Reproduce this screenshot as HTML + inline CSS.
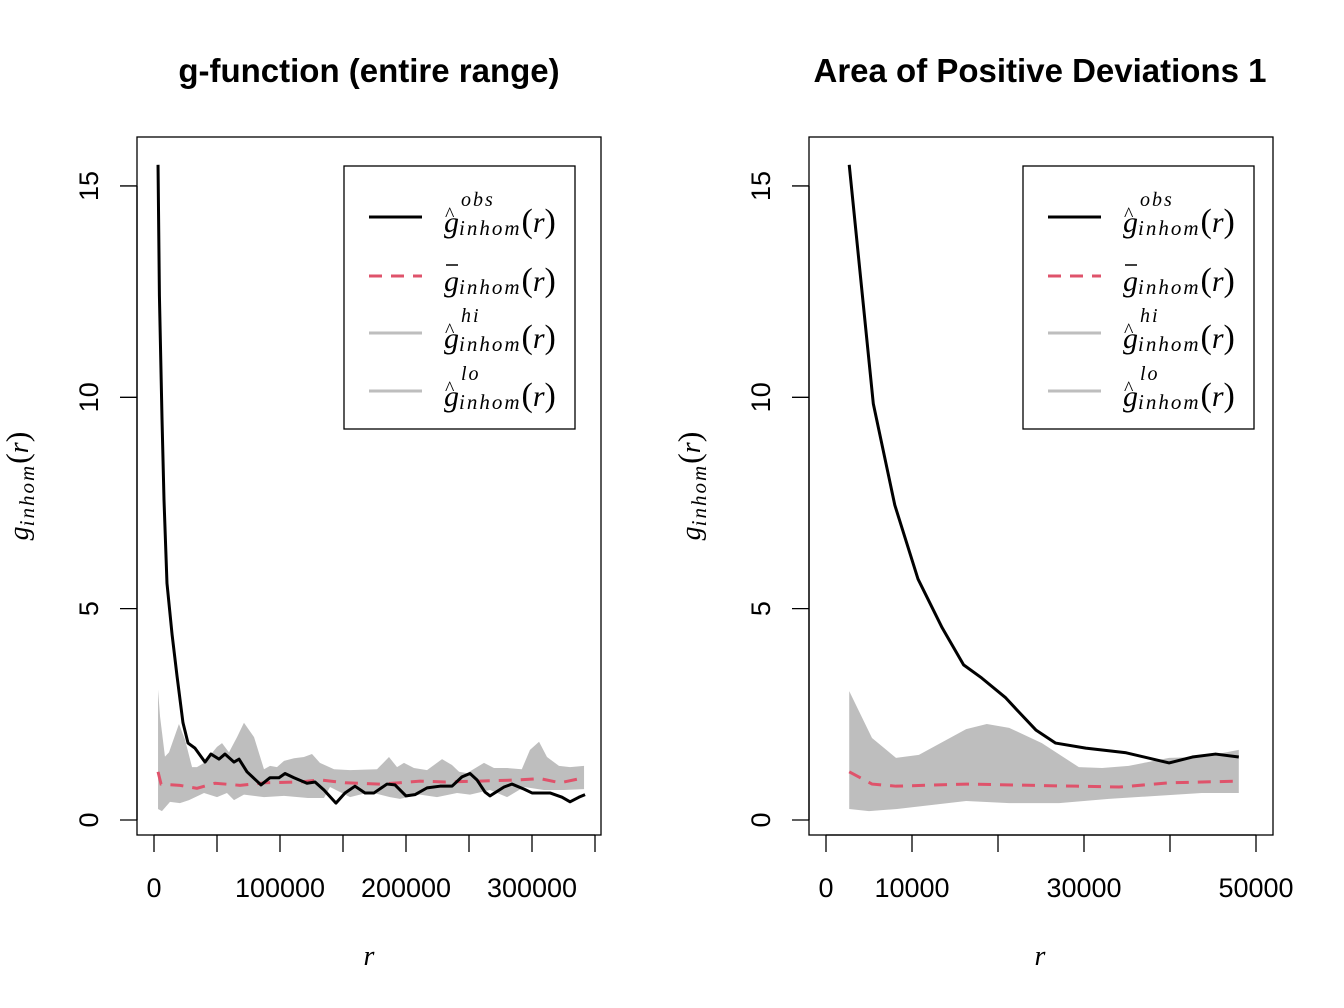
<!DOCTYPE html>
<html><head><meta charset="utf-8">
<style>
html,body{margin:0;padding:0;background:#fff;}
svg{display:block;font-family:"Liberation Sans",Arial,sans-serif;}
.tick{font-size:27px;fill:#000;}
.title{font-size:33px;font-weight:bold;fill:#000;}
.math{font-family:"Liberation Serif","DejaVu Serif",serif;}
</style></head>
<body>
<svg id="chart" width="1344" height="1008" viewBox="0 0 1344 1008"></svg>
<script>
// ---- Left panel data ----
const leftObsR = [3200,4300,6350,7940,10300,14300,18300,23000,27000,32500,40500,45200,51600,56300,63500,67500,73800,84900,92100,99200,104000,111100,121400,127800,134900,144400,151600,159500,167500,174600,184900,191300,200000,207100,216700,227000,236500,244400,250800,256300,262700,266700,277800,284100,293700,300000,314300,323800,330200,337300,342100];
const leftObsV = [15.5,12.4,9.5,7.57,5.6,4.4,3.4,2.3,1.82,1.7,1.37,1.56,1.44,1.56,1.37,1.44,1.14,0.83,1.0,1.0,1.1,1.0,0.87,0.9,0.71,0.4,0.64,0.8,0.64,0.64,0.85,0.83,0.57,0.6,0.76,0.8,0.8,1.02,1.1,0.95,0.66,0.57,0.78,0.85,0.73,0.64,0.64,0.54,0.43,0.54,0.6];
const leftHiR = [3200,4800,8700,11900,19800,24600,30200,34100,39700,50000,54000,59500,65900,71400,79400,87300,92100,97600,103200,111100,119000,125400,131700,142900,155600,177000,186500,192900,198400,206300,216700,228600,236500,242100,248400,261900,269800,280200,291900,298400,305600,311900,321400,330200,341300];
const leftHiV = [3.08,2.45,1.5,1.6,2.27,1.9,1.25,1.25,1.35,1.73,1.82,1.6,1.96,2.3,1.96,1.2,1.28,1.25,1.4,1.46,1.49,1.56,1.35,1.2,1.18,1.2,1.49,1.25,1.35,1.23,1.18,1.44,1.3,1.14,1.11,1.35,1.23,1.23,1.2,1.66,1.85,1.49,1.28,1.25,1.28];
const leftLoR = [3200,6300,12700,20600,27800,39700,50000,57900,63500,71400,87300,103200,122200,134900,139700,155600,171400,187300,195200,211100,224600,240500,250800,266700,280200,293700,309500,325400,341300];
const leftLoV = [0.26,0.21,0.43,0.4,0.47,0.64,0.54,0.64,0.47,0.6,0.54,0.57,0.52,0.52,0.78,0.54,0.66,0.54,0.5,0.6,0.54,0.64,0.6,0.71,0.54,0.78,0.71,0.71,0.73];
const leftTheoR = [3200,5600,20600,34100,48400,68300,88100,115900,131700,151600,179400,195200,211100,231000,258700,290500,306300,322200,341300];
const leftTheoV = [1.14,0.85,0.82,0.75,0.87,0.82,0.88,0.9,0.95,0.88,0.85,0.88,0.92,0.9,0.92,0.95,0.98,0.88,1.0];
const leftXTicks = [0,50000,100000,150000,200000,250000,300000,350000];
const leftXLabels = ["0","","100000","","200000","","300000",""];
// ---- Right panel data ----
const rightObsR = [2700,5500,8000,10700,13500,16000,18100,20900,22400,24400,26700,30200,34900,39900,42600,45300,48000];
const rightObsV = [15.5,9.85,7.45,5.7,4.55,3.67,3.36,2.89,2.56,2.13,1.82,1.7,1.59,1.35,1.49,1.56,1.49];
const rightHiR = [2700,5350,8140,10800,16300,18700,21300,25100,29400,32100,35200,39900,43700,48000];
const rightHiV = [3.05,1.94,1.47,1.54,2.15,2.27,2.18,1.82,1.25,1.23,1.28,1.47,1.49,1.66];
const rightLoR = [2700,5000,8260,16300,21300,27100,32900,43700,48000];
const rightLoV = [0.26,0.21,0.26,0.45,0.4,0.4,0.5,0.64,0.64];
const rightTheoR = [2700,5350,8140,16300,29100,34100,39900,48000];
const rightTheoV = [1.14,0.85,0.8,0.85,0.8,0.78,0.88,0.92];
const rightXTicks = [0,10000,20000,30000,40000,50000];
const rightXLabels = ["0","10000","","30000","","50000"];
const yTicks = [0,5,10,15];

const NS = "http://www.w3.org/2000/svg";
const svg = document.getElementById('chart');
function mk(tag, attrs, parent){ const e=document.createElementNS(NS,tag); for(const k in attrs) e.setAttribute(k,attrs[k]); (parent||svg).appendChild(e); return e; }

function panel(p){
  const g = mk('g',{});
  
  
  const xs = v => p.x0 + (v - p.xmin) * p.xk;
  const ys = v => 820 - v * 42.27;
  const t = mk('text',{x:p.cx,y:82,'text-anchor':'middle',class:'title'},g); t.textContent=p.title;
  
  
  const box = mk('rect',{x:p.bx,y:137,width:464,height:698,fill:'none',stroke:'#000','stroke-width':1.3},g);
  
  
  let d='';
  p.hiR.forEach((r,i)=>{ d += (i?'L':'M')+xs(r)+','+ys(p.hiV[i]); });
  for(let i=p.loR.length-1;i>=0;i--) d += 'L'+xs(p.loR[i])+','+ys(p.loV[i]);
  const env = mk('path',{d:d+'Z',fill:'#bebebe',stroke:'none'},g);
  
  
  const th = mk('polyline',{points:p.theoR.map((r,i)=>xs(r)+','+ys(p.theoV[i])).join(' '),fill:'none',stroke:'#df536b','stroke-width':3,'stroke-dasharray':'13,9'},g);
  
  
  const ob = mk('polyline',{points:p.obsR.map((r,i)=>xs(r)+','+ys(p.obsV[i])).join(' '),fill:'none',stroke:'#000','stroke-width':3,'stroke-linejoin':'round'},g);
  
  
  const xa = mk('g',{},g);
  
  
  const xf=xs(p.xTicks[0]), xl=xs(p.xTicks[p.xTicks.length-1]);
  mk('line',{x1:xf,x2:xl,y1:835,y2:835,stroke:'#000','stroke-width':1.3},xa);
  p.xTicks.forEach((v,i)=>{
    const x=xs(v);
    mk('line',{x1:x,x2:x,y1:835,y2:852,stroke:'#000','stroke-width':1.3},xa);
    if(p.xLabels[i]){ const tl=mk('text',{x:x,y:897,'text-anchor':'middle',class:'tick'},xa); tl.textContent=p.xLabels[i];
      
       }
  });
  const xt = mk('text',{x:p.cx,y:965,'text-anchor':'middle','font-size':28,'font-style':'italic',class:'math'},xa); xt.textContent='r';
  
  
  const ya = mk('g',{},g);
  
  
  const ax = p.bx;
  mk('line',{x1:ax,x2:ax,y1:ys(0),y2:ys(15),stroke:'#000','stroke-width':1.3},ya);
  yTicks.forEach(v=>{
    const y=ys(v);
    mk('line',{x1:ax-17,x2:ax,y1:y,y2:y,stroke:'#000','stroke-width':1.3},ya);
    const tl=mk('text',{x:0,y:0,'text-anchor':'middle',class:'tick',transform:`translate(${ax-39},${y}) rotate(-90)`},ya); tl.textContent=String(v);
    
    
  });
  const yt = mk('text',{x:0,y:0,'text-anchor':'middle','font-size':28,class:'math',transform:`translate(${ax-109},486) rotate(-90)`},ya);
  yt.innerHTML='<tspan font-style="italic">g</tspan><tspan font-style="italic" font-size="21" dy="6" letter-spacing="2">inhom</tspan><tspan dy="-6" font-size="32">(</tspan><tspan font-style="italic">r</tspan><tspan font-size="32">)</tspan>';
  
  
  const lg = mk('g',{},g);
  
  
  mk('rect',{x:p.lx,y:166,width:231,height:263,fill:'#fff',stroke:'#000','stroke-width':1.3},lg);
  const items=[['obs','#000',''],['bar','#df536b','13,9'],['hi','#bebebe',''],['lo','#bebebe','']];
  const ly=[217,276,333,391];
  items.forEach((it,i)=>{
    const e = mk('g',{},lg);
    
    
    mk('line',{x1:p.lx+25,x2:p.lx+78,y1:ly[i],y2:ly[i],stroke:it[1],'stroke-width':3,'stroke-dasharray':it[2]||'none'},e);
    const tx=p.lx+100, by=ly[i]+15;
    if(it[0]==='bar'){
      mk('line',{x1:tx+2,x2:tx+14,y1:by-26,y2:by-26,stroke:'#000','stroke-width':1.5},e);
    } else {
      const h=mk('text',{x:tx+1,y:by-11,'font-size':20,class:'math'},e); h.textContent='^';
      const s=mk('text',{x:tx+17,y:by-26,'font-size':20,'font-style':'italic','letter-spacing':2,class:'math'},e); s.textContent=it[0];
    }
    const m=mk('text',{x:tx,y:by,'font-size':30,class:'math'},e);
    m.innerHTML='<tspan font-style="italic">g</tspan><tspan font-style="italic" font-size="21" dy="3" letter-spacing="2">inhom</tspan><tspan dy="-3" font-size="34">(</tspan><tspan font-style="italic">r</tspan><tspan font-size="34">)</tspan>';
  });
}

panel({name:'left-panel',title:'g-function (entire range)',cx:369,bx:137,x0:154,xmin:0,xk:126/100000,lx:344,
  obsR:leftObsR,obsV:leftObsV,hiR:leftHiR,hiV:leftHiV,loR:leftLoR,loV:leftLoV,theoR:leftTheoR,theoV:leftTheoV,
  xTicks:leftXTicks,xLabels:leftXLabels});
panel({name:'right-panel',title:'Area of Positive Deviations 1',cx:1040,bx:809,x0:826,xmin:0,xk:0.0086,lx:1023,
  obsR:rightObsR,obsV:rightObsV,hiR:rightHiR,hiV:rightHiV,loR:rightLoR,loV:rightLoV,theoR:rightTheoR,theoV:rightTheoV,
  xTicks:rightXTicks,xLabels:rightXLabels});
</script>
</body></html>
